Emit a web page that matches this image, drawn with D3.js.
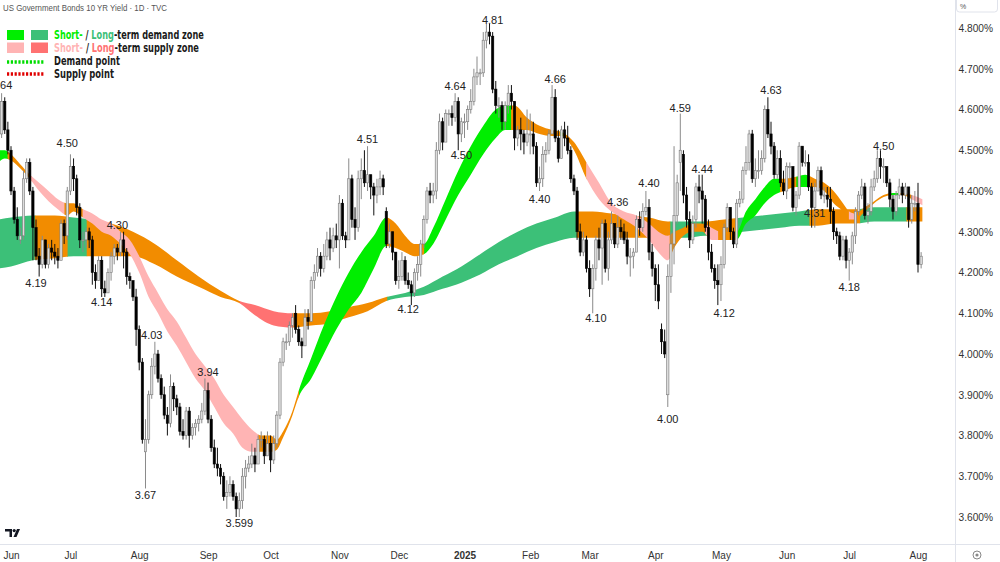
<!DOCTYPE html>
<html>
<head>
<meta charset="utf-8">
<script src="https://cdn.jsdelivr.net/npm/d3@7"></script>
<style>
  body { margin: 0; background: #fff; }
  svg { display: block; font-family: "Liberation Sans", Arial, sans-serif; }
</style>
</head>
<body>
<svg id="chart" width="1000" height="562"></svg>
<script>
// daily candles, [open, high, low, close] in %
const may24 = [[4.47,4.55,4.46,4.54],[4.54,4.64,4.53,4.62],[4.62,4.63,4.54,4.55],[4.55,4.57,4.49,4.50]];
const jun24 = [[4.50,4.51,4.39,4.40],[4.40,4.41,4.32,4.33],[4.33,4.36,4.28,4.29],[4.28,4.31,4.27,4.29],[4.29,4.45,4.28,4.43],
  [4.43,4.48,4.42,4.47],[4.47,4.48,4.39,4.40],[4.40,4.41,4.23,4.31],[4.31,4.33,4.23,4.24],[4.24,4.26,4.19,4.22],
  [4.22,4.29,4.21,4.28],[4.28,4.28,4.21,4.22],[4.22,4.27,4.21,4.26],[4.26,4.28,4.23,4.25],[4.25,4.27,4.22,4.24],
  [4.24,4.26,4.21,4.23],[4.23,4.33,4.23,4.32],[4.32,4.33,4.27,4.29],[4.29,4.41,4.28,4.40]];
const jul24 = [[4.40,4.49,4.39,4.46],[4.46,4.48,4.40,4.43],[4.43,4.44,4.34,4.36],[4.36,4.37,4.26,4.28],[4.28,4.30,4.25,4.28],
  [4.28,4.31,4.26,4.30],[4.30,4.31,4.26,4.28],[4.28,4.29,4.17,4.20],[4.20,4.22,4.16,4.18],[4.18,4.24,4.18,4.23],
  [4.23,4.24,4.14,4.16],[4.16,4.18,4.14,4.15],[4.15,4.21,4.15,4.20],[4.20,4.25,4.18,4.24],[4.24,4.27,4.22,4.26],
  [4.26,4.27,4.23,4.25],[4.25,4.30,4.24,4.28],[4.28,4.30,4.21,4.25],[4.25,4.26,4.17,4.19],[4.19,4.20,4.16,4.18],
  [4.18,4.18,4.13,4.14],[4.14,4.16,4.02,4.06]];
const aug24 = [[4.06,4.07,3.96,3.98],[3.98,3.99,3.78,3.79],[3.76,3.84,3.67,3.79],[3.79,3.91,3.78,3.90],[3.90,3.99,3.89,3.97],
  [3.97,4.03,3.95,4.00],[4.00,4.01,3.93,3.94],[3.94,3.95,3.89,3.90],[3.90,3.92,3.84,3.85],[3.85,3.87,3.80,3.83],
  [3.83,3.95,3.82,3.92],[3.92,3.93,3.86,3.89],[3.89,3.90,3.85,3.87],[3.87,3.88,3.80,3.81],[3.81,3.84,3.79,3.80],
  [3.80,3.87,3.79,3.86],[3.86,3.87,3.77,3.80],[3.80,3.83,3.79,3.82],[3.82,3.84,3.80,3.83],[3.83,3.85,3.81,3.84],
  [3.84,3.88,3.83,3.86],[3.86,3.94,3.85,3.91]];
const sep24 = [[3.91,3.93,3.83,3.84],[3.84,3.85,3.76,3.77],[3.77,3.79,3.72,3.73],[3.73,3.77,3.70,3.72],[3.72,3.73,3.68,3.70],
  [3.70,3.71,3.64,3.65],[3.65,3.69,3.62,3.66],[3.66,3.70,3.65,3.68],[3.68,3.69,3.64,3.65],[3.65,3.66,3.60,3.62],
  [3.62,3.66,3.60,3.64],[3.64,3.72,3.62,3.70],[3.70,3.74,3.67,3.72],[3.72,3.75,3.71,3.73],[3.73,3.78,3.72,3.75],
  [3.75,3.77,3.71,3.73],[3.73,3.80,3.73,3.79],[3.79,3.81,3.77,3.79],[3.79,3.80,3.73,3.75],[3.75,3.81,3.75,3.78]];
const oct24 = [[3.78,3.80,3.71,3.74],[3.74,3.80,3.73,3.78],[3.78,3.86,3.77,3.85],[3.85,3.99,3.84,3.98],[3.98,4.04,3.97,4.03],
  [4.03,4.05,4.01,4.03],[4.03,4.08,4.02,4.07],[4.07,4.10,4.04,4.09],[4.10,4.12,4.05,4.06],[4.06,4.07,4.02,4.03],
  [4.03,4.04,3.99,4.02],[4.02,4.11,4.02,4.09],[4.09,4.11,4.06,4.08],[4.08,4.19,4.08,4.18],[4.18,4.22,4.16,4.20],
  [4.20,4.26,4.19,4.24],[4.24,4.25,4.19,4.21],[4.21,4.27,4.20,4.24],[4.24,4.30,4.23,4.28],[4.28,4.31,4.23,4.26],
  [4.26,4.31,4.25,4.29],[4.29,4.32,4.26,4.28]];
const nov24 = [[4.28,4.39,4.21,4.37],[4.37,4.38,4.28,4.29],[4.29,4.30,4.26,4.28],[4.28,4.48,4.28,4.43],[4.43,4.44,4.31,4.33],
  [4.33,4.36,4.28,4.31],[4.31,4.45,4.30,4.43],[4.43,4.48,4.38,4.45],[4.45,4.50,4.41,4.42],[4.42,4.51,4.40,4.44],
  [4.44,4.44,4.38,4.41],[4.41,4.42,4.34,4.39],[4.39,4.43,4.37,4.41],[4.41,4.45,4.39,4.43],[4.43,4.44,4.39,4.41],
  [4.35,4.36,4.26,4.27],[4.27,4.32,4.26,4.30],[4.30,4.30,4.23,4.25],[4.25,4.25,4.17,4.18]];
const dec24 = [[4.18,4.23,4.16,4.19],[4.19,4.25,4.18,4.23],[4.23,4.24,4.17,4.18],[4.18,4.20,4.16,4.17],[4.17,4.18,4.12,4.15],
  [4.15,4.21,4.14,4.20],[4.20,4.24,4.18,4.22],[4.22,4.28,4.19,4.27],[4.27,4.34,4.26,4.33],[4.33,4.41,4.32,4.40],
  [4.40,4.42,4.37,4.39],[4.39,4.42,4.37,4.40],[4.40,4.52,4.38,4.50],[4.50,4.59,4.49,4.57],[4.57,4.58,4.50,4.52],
  [4.52,4.60,4.52,4.59],[4.59,4.60,4.56,4.59],[4.59,4.61,4.56,4.58],[4.58,4.64,4.57,4.62],[4.62,4.63,4.50,4.54],
  [4.54,4.58,4.52,4.57]];
const jan25 = [[4.57,4.59,4.53,4.57],[4.57,4.61,4.55,4.60],[4.60,4.65,4.59,4.62],[4.62,4.70,4.61,4.68],[4.68,4.73,4.66,4.69],
  [4.69,4.70,4.66,4.69],[4.69,4.79,4.68,4.77],[4.77,4.81,4.75,4.79],[4.79,4.81,4.76,4.78],[4.78,4.79,4.64,4.65],
  [4.65,4.67,4.59,4.61],[4.61,4.63,4.58,4.61],[4.61,4.62,4.55,4.57],[4.57,4.62,4.55,4.61],[4.61,4.66,4.59,4.64],
  [4.64,4.66,4.60,4.62],[4.62,4.62,4.50,4.53],[4.53,4.56,4.51,4.55],[4.55,4.58,4.50,4.54],[4.54,4.55,4.49,4.52],
  [4.52,4.60,4.51,4.54]];
const feb25 = [[4.54,4.59,4.49,4.54],[4.54,4.57,4.49,4.51],[4.51,4.52,4.41,4.42],[4.42,4.46,4.40,4.43],[4.43,4.51,4.41,4.49],
  [4.49,4.52,4.47,4.50],[4.50,4.55,4.49,4.54],[4.54,4.66,4.54,4.63],[4.63,4.65,4.52,4.53],[4.53,4.55,4.47,4.48],
  [4.48,4.56,4.48,4.55],[4.55,4.57,4.51,4.53],[4.53,4.56,4.49,4.50],[4.50,4.51,4.42,4.43],[4.43,4.44,4.39,4.40],
  [4.40,4.41,4.28,4.30],[4.30,4.32,4.24,4.25],[4.25,4.30,4.24,4.28],[4.28,4.29,4.20,4.21]];
const mar25 = [[4.21,4.23,4.14,4.16],[4.16,4.22,4.10,4.21],[4.21,4.29,4.18,4.28],[4.28,4.31,4.23,4.26],[4.26,4.33,4.17,4.32],
  [4.32,4.33,4.20,4.21],[4.21,4.30,4.18,4.28],[4.28,4.35,4.27,4.32],[4.32,4.32,4.26,4.27],[4.27,4.34,4.26,4.31],
  [4.31,4.33,4.28,4.30],[4.30,4.32,4.27,4.28],[4.28,4.30,4.22,4.24],[4.24,4.26,4.19,4.24],[4.24,4.26,4.21,4.25],
  [4.25,4.34,4.25,4.33],[4.33,4.35,4.29,4.31],[4.31,4.37,4.30,4.35],[4.35,4.40,4.34,4.36],[4.36,4.38,4.23,4.25],
  [4.25,4.27,4.19,4.21]];
const apr25 = [[4.21,4.22,4.13,4.17],[4.17,4.22,4.11,4.13],[4.06,4.075,4.00,4.03],[4.03,4.06,3.99,4.00],[3.90,4.22,3.87,4.19],
  [4.19,4.30,4.15,4.27],[4.27,4.51,4.22,4.34],[4.34,4.44,4.32,4.42],[4.47,4.59,4.40,4.50],[4.49,4.50,4.37,4.39],
  [4.39,4.41,4.31,4.33],[4.33,4.35,4.26,4.28],[4.28,4.34,4.27,4.32],[4.33,4.42,4.31,4.41],[4.41,4.44,4.37,4.40],
  [4.40,4.44,4.32,4.38],[4.38,4.39,4.30,4.31],[4.31,4.33,4.23,4.25],[4.25,4.27,4.20,4.21],[4.21,4.22,4.16,4.18],
  [4.18,4.22,4.12,4.17]];
const may25 = [[4.17,4.24,4.13,4.22],[4.22,4.32,4.21,4.31],[4.31,4.37,4.30,4.36],[4.36,4.36,4.28,4.30],[4.30,4.31,4.26,4.27],
  [4.27,4.38,4.26,4.37],[4.37,4.40,4.36,4.38],[4.38,4.46,4.37,4.45],[4.45,4.51,4.44,4.47],[4.47,4.55,4.45,4.54],
  [4.54,4.55,4.42,4.43],[4.43,4.48,4.41,4.45],[4.45,4.50,4.43,4.45],[4.45,4.50,4.44,4.48],[4.48,4.61,4.47,4.60],
  [4.60,4.63,4.53,4.54],[4.54,4.57,4.49,4.51],[4.51,4.52,4.43,4.44],[4.44,4.50,4.43,4.48],[4.48,4.50,4.41,4.42],
  [4.42,4.45,4.39,4.40]];
const jun25 = [[4.40,4.47,4.38,4.46],[4.46,4.47,4.43,4.46],[4.46,4.46,4.35,4.36],[4.36,4.40,4.34,4.39],[4.39,4.52,4.38,4.51],
  [4.51,4.51,4.46,4.47],[4.47,4.50,4.46,4.47],[4.47,4.49,4.40,4.41],[4.41,4.42,4.31,4.36],[4.36,4.42,4.31,4.40],
  [4.40,4.46,4.40,4.45],[4.45,4.46,4.38,4.39],[4.39,4.41,4.37,4.39],[4.39,4.41,4.36,4.38],[4.38,4.41,4.32,4.35],
  [4.35,4.36,4.28,4.30],[4.30,4.31,4.27,4.29],[4.29,4.30,4.23,4.24],[4.24,4.29,4.23,4.28],[4.28,4.29,4.21,4.23]];
const jul25 = [[4.23,4.26,4.18,4.25],[4.25,4.30,4.22,4.29],[4.29,4.36,4.27,4.35],[4.35,4.40,4.34,4.39],[4.39,4.43,4.38,4.41],
  [4.41,4.42,4.33,4.34],[4.34,4.37,4.32,4.35],[4.35,4.43,4.34,4.41],[4.41,4.45,4.40,4.43],[4.43,4.50,4.42,4.48],
  [4.48,4.50,4.43,4.46],[4.46,4.48,4.42,4.46],[4.46,4.46,4.41,4.42],[4.42,4.43,4.36,4.38],[4.38,4.39,4.33,4.35],
  [4.35,4.40,4.34,4.39],[4.39,4.43,4.38,4.41],[4.41,4.42,4.37,4.39],[4.39,4.42,4.38,4.41],[4.41,4.41,4.31,4.33],
  [4.33,4.39,4.32,4.37],[4.37,4.40,4.35,4.37]];
const aug25 = [[4.37,4.42,4.20,4.22],[4.22,4.25,4.21,4.24]];

const monthBars  = [may24, jun24, jul24, aug24, sep24, oct24, nov24, dec24, jan25, feb25, mar25, apr25, may25, jun25, jul25, aug25];
const monthNames = [null, "Jun", "Jul", "Aug", "Sep", "Oct", "Nov", "Dec", "2025", "Feb", "Mar", "Apr", "May", "Jun", "Jul", "Aug"];

const priceTicks = [3.6, 3.7, 3.8, 3.9, 4.0, 4.1, 4.2, 4.3, 4.4, 4.5, 4.6, 4.7, 4.8];

// ribbons: [bar index, upper edge, lower edge]  (bar 0 = first June bar)
const shortRibbon = [[-4,4.50,4.47],[-2,4.50,4.48],[0,4.49,4.475],[3,4.465,4.455],[6,4.44,4.43],[9,4.42,4.40],[12,4.40,4.375],
  [15,4.38,4.355],[18,4.37,4.34],[20,4.37,4.35],[23,4.355,4.335],[26,4.345,4.32],[29,4.33,4.30],[32,4.32,4.29],[35,4.30,4.27],
  [38,4.28,4.245],[41,4.24,4.20],[44,4.19,4.14],[47,4.15,4.10],[50,4.11,4.055],[53,4.08,4.02],[56,4.04,3.98],[59,4.00,3.94],
  [62,3.97,3.91],[65,3.94,3.87],[68,3.90,3.83],[71,3.87,3.805],[74,3.84,3.77],[77,3.815,3.76],[80,3.80,3.76],[83,3.80,3.76],
  [85,3.79,3.765],[87,3.81,3.795],[90,3.86,3.85],[92,3.91,3.895],[96,3.99,3.94],[100,4.07,4.00],[104,4.14,4.06],[108,4.20,4.11],
  [112,4.25,4.15],[116,4.29,4.21],[120,4.335,4.265],[123,4.32,4.26],[126,4.29,4.25],[129,4.27,4.24],[132,4.27,4.245],
  [135,4.31,4.27],[139,4.38,4.33],[143,4.45,4.39],[147,4.51,4.44],[151,4.56,4.49],[155,4.60,4.53],[158,4.61,4.55],
  [161,4.61,4.55],[165,4.58,4.55],[169,4.56,4.54],[173,4.55,4.535],[176,4.545,4.535],[180,4.52,4.50],[184,4.47,4.43],
  [188,4.42,4.38],[192,4.37,4.35],[196,4.35,4.33],[200,4.34,4.31],[204,4.32,4.28],[207,4.30,4.25],[210,4.29,4.23],
  [212,4.30,4.26],[215,4.31,4.29],[218,4.32,4.30],[221,4.32,4.30],[224,4.31,4.28],[227,4.30,4.28],[230,4.30,4.28],
  [232,4.30,4.28],[235,4.35,4.32],[238,4.38,4.34],[241,4.41,4.37],[244,4.43,4.39],[247,4.43,4.40],[251,4.435,4.41],
  [254,4.44,4.41],[257,4.43,4.41],[260,4.42,4.40],[263,4.40,4.37],[266,4.37,4.35],[268,4.35,4.33],[270,4.345,4.33],
  [273,4.36,4.35],[276,4.375,4.37],[279,4.39,4.385],[282,4.395,4.39],[285,4.395,4.39],[288,4.39,4.38],[291.4,4.38,4.365]];
const longRibbon = [[-4,4.33,4.21],[0,4.335,4.215],[7,4.34,4.23],[14,4.34,4.235],[20,4.335,4.24],[26,4.33,4.24],[32,4.32,4.24],
  [39,4.30,4.24],[46,4.27,4.22],[53,4.23,4.19],[60,4.19,4.165],[67,4.155,4.14],[73,4.13,4.125],[78,4.12,4.095],[84,4.105,4.07],
  [90,4.10,4.065],[96,4.10,4.07],[102,4.105,4.075],[108,4.115,4.09],[114,4.125,4.105],[120,4.14,4.13],[126,4.15,4.14],
  [132,4.165,4.145],[138,4.19,4.16],[144,4.215,4.175],[150,4.245,4.195],[156,4.275,4.22],[162,4.30,4.24],[168,4.32,4.26],
  [174,4.335,4.275],[180,4.35,4.285],[186,4.35,4.285],[192,4.345,4.285],[198,4.34,4.285],[204,4.335,4.285],[210,4.325,4.285],
  [216,4.325,4.285],[222,4.325,4.29],[228,4.33,4.29],[234,4.335,4.30],[240,4.34,4.305],[246,4.345,4.31],[252,4.35,4.315],
  [258,4.355,4.315],[264,4.355,4.32],[270,4.355,4.32],[276,4.36,4.325],[282,4.36,4.325],[288,4.36,4.325],[291.4,4.36,4.325]];

// zone state of each ribbon between two bar indices
const shortZones = [[-4,-1,"sd"],[-1,6.5,"nt"],[6.5,17,"ss"],[17,23,"nt"],[23,79,"ss"],[79,92,"nt"],[92,120,"sd"],[120,132,"nt"],
  [132,160,"sd"],[160,175.5,"nt"],[175.5,176.5,"sd"],[176.5,184,"nt"],[184,210.5,"ss"],[210.5,222,"nt"],[222,226,"ss"],
  [226,232,"nt"],[232,246,"sd"],[246,251,"nt"],[251,255,"sd"],[255,268,"nt"],[268,270,"ss"],[270,281,"nt"],[281,284,"sd"],
  [284,288,"nt"],[288,292,"ss"]];
const longZones = [[-4,7.7,"ld"],[7.7,18,"nt"],[18,24.3,"ld"],[24.3,73.2,"nt"],[73.2,90.2,"ls"],[90.2,120.2,"nt"],[120.2,181,"ld"],
  [181,210.7,"nt"],[210.7,222.5,"ld"],[222.5,232,"nt"],[232,255.4,"ld"],[255.4,271.4,"nt"],[271.4,286.4,"ld"],[286.4,292,"nt"]];

// swing annotations: [bar index, level of label centre, text]
const swingLabels = [[-3,4.660,"4.64"],[18,4.518,"4.50"],[8,4.174,"4.19"],[34,4.317,"4.30"],[29,4.128,"4.14"],[45,4.047,"4.03"],
  [63,3.956,"3.94"],[43,3.654,"3.67"],[73,3.585,"3.599"],[114,4.528,"4.51"],[127,4.110,"4.12"],[142,4.658,"4.64"],
  [144,4.488,"4.50"],[154,4.820,"4.81"],[174,4.675,"4.66"],[169,4.380,"4.40"],[187,4.088,"4.10"],[194,4.373,"4.36"],
  [204,4.420,"4.40"],[210,3.840,"4.00"],[214,4.604,"4.59"],[221,4.454,"4.44"],[228,4.101,"4.12"],[243,4.648,"4.63"],
  [257,4.346,"4.31"],[268,4.164,"4.18"],[279,4.510,"4.50"]];

const zoneColor = { sd: "#00ee00", ld: "#3cc078", ss: "#ffb4b4", ls: "#ff7272", nt: "#f28c00" };

const svg = d3.select("#chart");
const plotRight = 955, plotBottom = 544;

// flatten bars, first June bar gets index 0
let candles = [];
let monthStarts = [];
let idx = -may24.length;
monthBars.forEach(function(m, k){
  if (monthNames[k]) monthStarts.push({ i: idx, name: monthNames[k] });
  m.forEach(function(b){
    candles.push({ i: idx, o: b[0], h: b[1], l: b[2], c: b[3] });
    idx++;
  });
});

const x = d3.scaleLinear().domain([0, 290]).range([11, 918]);
const y = d3.scaleLinear().domain([3.6, 4.8]).range([517, 28]);

const defs = svg.append("defs");
defs.append("clipPath").attr("id", "plot")
  .append("rect").attr("x", 0).attr("y", 0).attr("width", plotRight).attr("height", plotBottom);

const plot = svg.append("g").attr("clip-path", "url(#plot)");

// ribbons
function drawRibbon(name, pts, zones){
  let area = d3.area()
    .x(d => x(d[0]))
    .y0(d => y(d[2]))
    .y1(d => y(d[1]))
    .curve(d3.curveMonotoneX);
  let keys = Array.from(new Set(zones.map(z => z[2])));
  keys.forEach(function(key){
    let cp = defs.append("clipPath").attr("id", name + "-" + key);
    zones.filter(z => z[2] == key).forEach(function(z){
      cp.append("rect")
        .attr("x", x(z[0]) - 0.3)
        .attr("width", x(z[1]) - x(z[0]) + 0.6)
        .attr("y", 0).attr("height", plotBottom);
    });
    plot.append("path")
      .datum(pts)
      .attr("d", area)
      .attr("fill", zoneColor[key])
      .attr("clip-path", "url(#" + name + "-" + key + ")");
  });
}
drawRibbon("long", longRibbon, longZones);
drawRibbon("short", shortRibbon, shortZones);

// candles
let bw = 2.3;
let cg = plot.append("g");
cg.selectAll("line").data(candles).join("line")
  .attr("x1", d => x(d.i)).attr("x2", d => x(d.i))
  .attr("y1", d => y(d.h)).attr("y2", d => y(d.l))
  .attr("stroke", d => d.c >= d.o ? "#8a8a8a" : "#111")
  .attr("stroke-width", 1);
cg.selectAll("rect").data(candles).join("rect")
  .attr("x", d => x(d.i) - bw / 2)
  .attr("width", bw)
  .attr("y", d => y(Math.max(d.o, d.c)))
  .attr("height", d => Math.max(1, Math.abs(y(d.o) - y(d.c))))
  .attr("fill", d => d.c >= d.o ? "#dcdcdc" : "#000")
  .attr("stroke", d => d.c >= d.o ? "#7a7a7a" : "#000")
  .attr("stroke-width", 0.6);

// swing labels
plot.append("g").selectAll("text").data(swingLabels).join("text")
  .attr("x", d => x(d[0]))
  .attr("y", d => y(d[1]))
  .attr("text-anchor", "middle")
  .attr("dy", "0.35em")
  .attr("font-size", 11)
  .attr("fill", "#222")
  .text(d => d[2]);

// frame lines
svg.append("line").attr("x1", 0).attr("x2", 1000).attr("y1", plotBottom + 0.5).attr("y2", plotBottom + 0.5)
  .attr("stroke", "#e0e3eb");
svg.append("line").attr("x1", plotRight + 0.5).attr("x2", plotRight + 0.5).attr("y1", 0).attr("y2", 562)
  .attr("stroke", "#e0e3eb");

// axes
let xAxis = d3.axisBottom(x)
  .tickValues(monthStarts.map(d => d.i))
  .tickFormat((d, k) => monthStarts[k].name)
  .tickSize(0).tickPadding(8);
svg.append("g").attr("transform", "translate(0," + plotBottom + ")").call(xAxis)
  .call(g => g.select(".domain").remove())
  .selectAll("text")
  .attr("font-size", 10).attr("fill", "#333")
  .attr("font-family", "Liberation Sans, Arial, sans-serif")
  .attr("font-weight", d => d == 145 ? "bold" : "normal");

let yAxis = d3.axisRight(y)
  .tickValues(priceTicks)
  .tickFormat(d => d.toFixed(3) + "%")
  .tickSize(0).tickPadding(3.5);
svg.append("g").attr("transform", "translate(" + plotRight + ",0)").call(yAxis)
  .call(g => g.select(".domain").remove())
  .selectAll("text")
  .attr("font-size", 10.2).attr("fill", "#333")
  .attr("font-family", "Liberation Sans, Arial, sans-serif");

// "%" unit box
svg.append("rect").attr("x", 956.5).attr("y", -4).attr("width", 41).attr("height", 16).attr("rx", 3)
  .attr("fill", "#fff").attr("stroke", "#e0e3eb");
svg.append("text").attr("x", 960).attr("y", 9).attr("font-size", 7).attr("fill", "#555").text("%");

// settings icon bottom right
svg.append("circle").attr("cx", 977).attr("cy", 555).attr("r", 4).attr("fill", "none").attr("stroke", "#888").attr("stroke-width", 1);
svg.append("circle").attr("cx", 977).attr("cy", 555).attr("r", 1.6).attr("fill", "#888");

// logo bottom left
let logo = svg.append("g").attr("fill", "#131722");
logo.append("path").attr("d", "M5,529 H12 V537 H9.5 V531.5 H5 Z");
logo.append("circle").attr("cx", 14.2).attr("cy", 530.6).attr("r", 1.6);
logo.append("path").attr("d", "M17,529 H20 L16.5,537 H13.5 Z");

// title
svg.append("text").attr("x", 3).attr("y", 11).attr("font-size", 9.5).attr("fill", "#555")
  .attr("textLength", 164).attr("lengthAdjust", "spacingAndGlyphs")
  .text("US Government Bonds 10 YR Yield · 1D · TVC");

// legend
let lg = svg.append("g");
lg.append("rect").attr("x", 7).attr("y", 30).attr("width", 17).attr("height", 10).attr("fill", zoneColor.sd);
lg.append("rect").attr("x", 31).attr("y", 30).attr("width", 17).attr("height", 10).attr("fill", zoneColor.ld);
lg.append("rect").attr("x", 7).attr("y", 42.5).attr("width", 17).attr("height", 10.5).attr("fill", zoneColor.ss);
lg.append("rect").attr("x", 31).attr("y", 42.5).attr("width", 17).attr("height", 10.5).attr("fill", zoneColor.ls);
lg.append("line").attr("x1", 7).attr("x2", 44).attr("y1", 62).attr("y2", 62)
  .attr("stroke", "#00dd00").attr("stroke-width", 3.5).attr("stroke-dasharray", "2.2,1.6");
lg.append("line").attr("x1", 7).attr("x2", 44).attr("y1", 74).attr("y2", 74)
  .attr("stroke", "#e00000").attr("stroke-width", 3.5).attr("stroke-dasharray", "2.2,1.6");

// legend rows: keep the letter height, squeeze horizontally to the reference width
function legendText(yPos, parts, len){
  let t = lg.append("text").attr("x", 0).attr("y", 0)
    .attr("font-size", 11.5).attr("font-weight", "bold")
    .attr("font-family", "Liberation Sans Narrow, DejaVu Sans Condensed, Arial, sans-serif");
  parts.forEach(p => t.append("tspan").attr("fill", p[1]).text(p[0]));
  let w = t.node().getComputedTextLength();
  let k = w > 0 ? len / w : 1;
  t.attr("transform", "translate(54," + yPos + ") scale(" + k + ",1)");
}
legendText(39, [["Short-", zoneColor.sd], [" / ", "#1a1a1a"], ["Long", zoneColor.ld], ["-term demand zone", "#1a1a1a"]], 150);
legendText(52, [["Short-", zoneColor.ss], [" / ", "#1a1a1a"], ["Long", zoneColor.ls], ["-term supply zone", "#1a1a1a"]], 145);
legendText(65, [["Demand point", "#1a1a1a"]], 66);
legendText(78, [["Supply point", "#1a1a1a"]], 60);
</script>
</body>
</html>
